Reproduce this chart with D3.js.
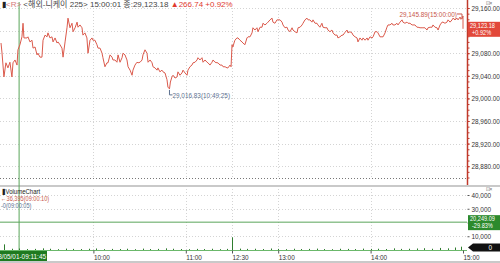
<!DOCTYPE html>
<html>
<head>
<meta charset="utf-8">
<script src="https://cdn.jsdelivr.net/npm/d3@7"></script>
<style>
    body { margin: 0; background: #fff; }
    svg { display: block; }
</style>
</head>
<body>
<div id="chart"></div>
<script>
// Trading minutes since 09:00 (the 11:30-12:30 lunch break is removed, 15:00 = 300)
const priceMin = [
    0, 0.6, 1.9, 3.2, 4.5, 5.8, 7.1, 7.8, 9.1, 10.4, 11.0, 12.3, 13.6, 14.3, 14.9, 16.9, 17.5, 18.8, 20.1, 20.8,
    22.1, 23.4, 24.0, 25.3, 26.6, 27.3, 28.6, 29.9, 30.5, 31.8, 33.1, 33.8, 35.1, 36.4, 37.0, 38.3, 39.6, 40.3, 41.6, 42.9,
    43.5, 44.8, 46.1, 46.8, 48.1, 49.4, 50.0, 51.3, 52.6, 53.2, 54.5, 55.8, 56.5, 57.8, 59.1, 59.7, 61.0, 62.3, 63.0, 64.3,
    65.6, 66.2, 67.5, 68.8, 69.5, 70.8, 72.1, 72.7, 74.0, 75.3, 76.0, 77.3, 78.6, 79.2, 80.5, 81.8, 82.5, 83.8, 85.1, 85.7,
    87.0, 88.3, 89.0, 90.3, 91.6, 92.2, 93.5, 94.8, 95.5, 96.8, 98.1, 98.7, 100.0, 101.3, 101.9, 103.2, 104.5, 105.2, 106.5, 107.8,
    108.4, 109.4, 110.0, 111.0, 111.7, 113.0, 114.3, 114.9, 116.2, 117.5, 118.2, 119.5, 120.8, 121.4, 122.7, 124.0, 124.7, 126.0, 127.3, 127.9,
    129.2, 130.5, 131.2, 132.5, 133.8, 134.4, 135.7, 137.0, 137.7, 139.0, 140.3, 140.9, 142.2, 143.5, 144.2, 145.5, 146.8, 147.4, 148.7, 149.4,
    150.0, 150.6, 151.3, 151.9, 153.2, 153.9, 155.2, 156.5, 157.1, 158.4, 159.7, 160.4, 161.7, 163.0, 163.6, 164.9, 166.2, 166.9, 168.2, 169.5,
    170.1, 171.4, 172.7, 173.4, 174.7, 176.0, 176.6, 177.9, 179.2, 179.9, 181.2, 182.5, 183.1, 184.4, 185.7, 186.4, 187.7, 189.0, 189.6, 190.9,
    192.2, 192.9, 194.2, 195.5, 196.1, 197.4, 198.7, 199.4, 200.6, 201.9, 202.6, 203.9, 205.2, 205.8, 207.1, 208.4, 209.1, 210.4, 211.7, 212.3,
    213.6, 214.9, 215.6, 216.9, 218.2, 218.8, 220.1, 221.4, 222.1, 223.4, 224.7, 225.3, 226.6, 227.9, 228.6, 229.9, 231.2, 231.8, 233.1, 234.4,
    235.1, 236.4, 237.7, 238.3, 239.6, 241.0, 241.6, 242.9, 244.2, 244.8, 246.1, 247.4, 248.1, 249.4, 250.6, 251.3, 252.6, 253.9, 254.5, 255.8,
    257.1, 257.8, 259.1, 260.4, 261.0, 262.3, 263.6, 264.3, 265.6, 266.9, 267.5, 268.8, 270.1, 270.8, 272.1, 273.4, 274.0, 275.3, 276.6, 277.3,
    278.6, 279.9, 280.5, 281.8, 283.1, 283.8, 285.1, 286.4, 287.0, 288.3, 289.6, 290.3, 291.6, 292.9, 293.5, 294.8, 296.1, 296.8, 298.1, 298.7,
    299.4, 300, 300
];
const priceVal = [
    29098, 29082, 29038, 29063, 29054, 29064, 29038, 29063, 29068, 29059, 29086, 29095, 29109, 29133, 29107, 29107, 29109, 29100, 29103, 29089,
    29091, 29077, 29080, 29073, 29073, 29103, 29112, 29109, 29116, 29107, 29109, 29100, 29107, 29098, 29100, 29095, 29089, 29073, 29100, 29126,
    29142, 29125, 29133, 29118, 29125, 29135, 29126, 29130, 29125, 29112, 29116, 29107, 29080, 29103, 29107, 29103, 29103, 29095, 29089, 29089,
    29080, 29072, 29056, 29063, 29063, 29077, 29073, 29068, 29068, 29064, 29077, 29064, 29072, 29080, 29077, 29068, 29056, 29050, 29041, 29050,
    29059, 29064, 29063, 29064, 29068, 29077, 29086, 29080, 29064, 29068, 29063, 29056, 29054, 29050, 29054, 29047, 29050, 29047, 29045, 29033,
    29020, 29016.83, 29029, 29038, 29041, 29036, 29038, 29047, 29041, 29045, 29050, 29045, 29041, 29050, 29056, 29059, 29063, 29064, 29068, 29072,
    29068, 29072, 29064, 29068, 29064, 29063, 29059, 29064, 29068, 29064, 29063, 29063, 29059, 29059, 29056, 29056, 29054, 29054, 29059, 29056,
    29095, 29091, 29098, 29103, 29107, 29107, 29103, 29100, 29098, 29095, 29107, 29109, 29109, 29116, 29125, 29121, 29125, 29118, 29126, 29126,
    29133, 29130, 29133, 29135, 29139, 29142, 29135, 29133, 29139, 29139, 29139, 29135, 29130, 29125, 29126, 29121, 29118, 29125, 29121, 29118,
    29116, 29125, 29126, 29130, 29133, 29139, 29142, 29139, 29139, 29135, 29139, 29133, 29133, 29130, 29126, 29133, 29126, 29125, 29125, 29121,
    29118, 29121, 29116, 29112, 29112, 29107, 29109, 29112, 29112, 29117, 29121, 29116, 29118, 29116, 29112, 29109, 29107, 29100, 29107, 29103,
    29107, 29103, 29107, 29103, 29109, 29107, 29109, 29118, 29118, 29116, 29109, 29109, 29109, 29116, 29126, 29130, 29130, 29133, 29130, 29130,
    29133, 29130, 29135, 29139, 29135, 29133, 29135, 29133, 29133, 29130, 29130, 29130, 29126, 29126, 29125, 29125, 29125, 29125, 29121, 29125,
    29126, 29126, 29130, 29126, 29125, 29121, 29130, 29135, 29135, 29133, 29135, 29139, 29135, 29139, 29142, 29139, 29142, 29139, 29144, 29140,
    29142, 29145.89, 29123.18
];

// Volume bars (trading minutes, contracts)
const volMin = [
    2, 7, 12, 17, 22, 27, 32, 37, 42, 47, 52, 57, 62, 67, 72, 77, 82, 87, 92, 97, 102, 107, 112, 117, 122, 127, 132, 137, 142, 147,
    150, 155, 160, 165, 170, 175, 180, 185, 190, 195, 200, 205, 210, 215, 220, 225, 230, 235, 240, 245, 250, 255, 260, 265, 270, 275, 280, 285, 290, 295, 299
];
const volVal = [
    4100, 900, 1100, 700, 800, 1200, 900, 600, 1000, 800, 700, 900, 1100, 600, 800, 700, 900, 600, 1000, 700, 800, 1200, 900, 700, 600, 800, 700, 900, 600, 800,
    9200, 1000, 800, 900, 700, 1100, 800, 600, 900, 700, 800, 1000, 700, 600, 900, 800, 700, 1000, 800, 900, 700, 1200, 800, 900, 1100, 1300, 900, 1500, 1200, 1800, 2400
];

const priceTicks = [28880, 28920, 28960, 29000, 29040, 29080, 29120, 29160];
const volTicks = [10000, 20000, 30000, 40000];
const timeTickMin = [60, 120, 150, 180, 240, 300];
const timeTickLabel = ["10:00", "11:00", "12:30", "13:00", "14:00", "15:00"];

const closePrice = 29123.18;
const volAvg = 20249.09;
const crossMin = 11.75; // 09:11:45

const FONT = "'Liberation Sans', 'Noto Sans CJK KR', sans-serif";
const SQUEEZE = 0.8; // the terminal font is narrow
const W = 500, H = 263;
const axisX = 467;

const svg = d3.select("#chart").append("svg")
    .attr("width", W)
    .attr("height", H)
    .style("font-family", FONT);

svg.append("rect").attr("width", W).attr("height", H).attr("fill", "#fff");

// Scales
const x = d3.scaleLinear().domain([0, 300]).range([1, 463]);
const yP = d3.scaleLinear().domain([28860, 29160]).range([177.5, 8]);
const yV = d3.scaleLinear().domain([0, 40000]).range([250, 195]);

// Grid lines
const grid = svg.append("g").attr("stroke", "#d4d4d4").attr("stroke-dasharray", "1,2");
grid.selectAll(".hp").data(priceTicks).enter().append("line")
    .attr("x1", 0).attr("x2", axisX)
    .attr("y1", d => Math.round(yP(d)) + 0.5).attr("y2", d => Math.round(yP(d)) + 0.5);
grid.selectAll(".hv").data([10000, 30000, 40000]).enter().append("line")
    .attr("x1", 0).attr("x2", axisX)
    .attr("y1", d => Math.round(yV(d)) + 0.5).attr("y2", d => Math.round(yV(d)) + 0.5);
grid.selectAll(".vp").data(timeTickMin.slice(0, -1)).enter().append("line")
    .attr("x1", d => Math.round(x(d)) + 0.5).attr("x2", d => Math.round(x(d)) + 0.5)
    .attr("y1", 8).attr("y2", 178);
grid.selectAll(".vv").data(timeTickMin.slice(0, -1)).enter().append("line")
    .attr("x1", d => Math.round(x(d)) + 0.5).attr("x2", d => Math.round(x(d)) + 0.5)
    .attr("y1", 189).attr("y2", 250);

// bottom of price pane
svg.append("line")
    .attr("x1", 0).attr("x2", axisX)
    .attr("y1", Math.round(yP(28860)) + 0.5).attr("y2", Math.round(yP(28860)) + 0.5)
    .attr("stroke", "#777").attr("stroke-dasharray", "1,2");

// pane separators
svg.append("rect").attr("x", 0).attr("y", 185).attr("width", W).attr("height", 2).attr("fill", "#c9c9c9");
svg.append("rect").attr("x", 0).attr("y", 261).attr("width", W).attr("height", 2).attr("fill", "#c9c9c9");

// Crosshair
svg.append("line")
    .attr("x1", x(crossMin)).attr("x2", x(crossMin))
    .attr("y1", 2).attr("y2", 251)
    .attr("stroke", "#5aa55a").attr("stroke-width", 1);
svg.append("line")
    .attr("x1", 0).attr("x2", axisX)
    .attr("y1", yV(volAvg)).attr("y2", yV(volAvg))
    .attr("stroke", "#5aa55a").attr("stroke-width", 1);

// Price line
const priceData = priceMin.map((m, i) => ({ m: m, v: priceVal[i] }));
const line = d3.line().x(d => x(d.m)).y(d => yP(d.v));
svg.append("path")
    .datum(priceData)
    .attr("fill", "none")
    .attr("stroke", "#db5a4c")
    .attr("stroke-width", 1)
    .attr("d", line);

// Volume
svg.append("line")
    .attr("x1", 0).attr("x2", axisX)
    .attr("y1", yV(0) + 0.5).attr("y2", yV(0) + 0.5)
    .attr("stroke", "#6bb86b");
svg.selectAll(".vol")
    .data(volMin.map((m, i) => ({ m: m, v: volVal[i] })))
    .enter().append("line")
    .attr("class", "vol")
    .attr("x1", d => Math.round(x(d.m)) + 0.5).attr("x2", d => Math.round(x(d.m)) + 0.5)
    .attr("y1", yV(0)).attr("y2", d => yV(d.v))
    .attr("stroke", "#2f7d2f");

// High / low annotations
const hiIdx = d3.maxIndex(priceVal);
const loIdx = d3.minIndex(priceVal);
const hx = x(priceMin[hiIdx]), hy = yP(priceVal[hiIdx]);
svg.append("path")
    .attr("d", `M${hx - 6},${hy - 2}H${hx - 1}V${hy + 3}`)
    .attr("fill", "none").attr("stroke", "#c8574a");
svg.append("text")
    .attr("x", hx - 6).attr("y", hy + 1)
    .attr("text-anchor", "end")
    .attr("font-size", 8).attr("fill", "#c8574a")
    .text(d3.format(",.2f")(priceVal[hiIdx]) + "(15:00:00)");
const lx = x(priceMin[loIdx]), ly = yP(priceVal[loIdx]);
svg.append("path")
    .attr("d", `M${lx},${ly + 1}V${ly + 6}H${lx + 3}`)
    .attr("fill", "none").attr("stroke", "#5d7290");
svg.append("text")
    .attr("x", lx + 3).attr("y", ly + 9)
    .attr("font-size", 8).attr("fill", "#5d7290")
    .text(d3.format(",.2f")(priceVal[loIdx]) + "(10:49:25)");

// Price axis (right); the label under the current-price box is hidden
const pAxis = svg.append("g")
    .attr("transform", `translate(${axisX + 0.5},0)`)
    .call(d3.axisRight(yP).tickValues(priceTicks).tickFormat(d3.format(",.2f")).tickSize(2).tickPadding(2));
pAxis.select(".domain").remove();
pAxis.selectAll("line").attr("stroke", "#c0392b");
pAxis.selectAll("text").attr("font-family", FONT).attr("font-size", 8).attr("fill", "#333");
pAxis.selectAll(".tick").filter(d => Math.abs(yP(d) - yP(closePrice)) < 8).select("text").remove();
const pMinor = svg.append("g")
    .attr("transform", `translate(${axisX + 0.5},0)`)
    .call(d3.axisRight(yP).ticks(30).tickFormat("").tickSize(2));
pMinor.select(".domain").remove();
pMinor.selectAll("line").attr("stroke", "#c0392b");
svg.append("line")
    .attr("x1", axisX + 0.5).attr("x2", axisX + 0.5)
    .attr("y1", 0).attr("y2", 185)
    .attr("stroke", "#c0392b").attr("stroke-width", 1.5);

// Volume axis (right); the label under the crosshair box is hidden
const vAxis = svg.append("g")
    .attr("transform", `translate(${axisX + 0.5},0)`)
    .call(d3.axisRight(yV).tickValues(volTicks).tickFormat(d3.format(",")).tickSize(2).tickPadding(2));
vAxis.select(".domain").remove();
vAxis.selectAll("line").attr("stroke", "#555");
vAxis.selectAll("text").attr("font-family", FONT).attr("font-size", 8).attr("fill", "#333");
vAxis.selectAll(".tick").filter(d => Math.abs(yV(d) - yV(volAvg)) < 8).select("text").remove();

// Time axis
const tAxis = svg.append("g")
    .attr("transform", `translate(0,${yV(0) + 0.5})`)
    .call(d3.axisBottom(x).tickValues(timeTickMin).tickFormat((d, i) => timeTickLabel[i]).tickSize(3).tickPadding(1));
tAxis.select(".domain").remove();
tAxis.selectAll("line").attr("stroke", "#555");
tAxis.selectAll("text")
    .attr("font-family", FONT).attr("font-size", 8).attr("fill", "#333")
    .attr("text-anchor", "start");

// Current price box
const cy = yP(closePrice);
svg.append("rect").attr("x", axisX + 1).attr("y", cy - 7).attr("width", W - axisX).attr("height", 15).attr("fill", "#e2483a");
svg.append("text").attr("x", axisX + 3).attr("y", cy - 0.8).attr("font-size", 7).attr("fill", "#fff").text(d3.format(",.2f")(closePrice));
svg.append("text").attr("x", axisX + 5).attr("y", cy + 6.3).attr("font-size", 7).attr("fill", "#fff").text("+0.92%");

// Volume crosshair box
const vy = yV(volAvg);
svg.append("rect").attr("x", axisX + 1).attr("y", vy - 7).attr("width", W - axisX).attr("height", 15).attr("fill", "#2c8a2c");
svg.append("text").attr("x", axisX + 3).attr("y", vy - 0.8).attr("font-size", 7).attr("fill", "#fff").text(d3.format(",.2f")(volAvg));
svg.append("text").attr("x", axisX + 5).attr("y", vy + 6.3).attr("font-size", 7).attr("fill", "#fff").text("-29.83%");

// Zero box
const zy = yV(0) - 2.5;
svg.append("path")
    .attr("d", `M${axisX + 1},${zy} L${axisX + 6},${zy - 4} H${W} V${zy + 4} H${axisX + 6} Z`)
    .attr("fill", "#111");
svg.append("text").attr("x", 492).attr("y", zy + 3).attr("text-anchor", "end").attr("font-size", 8).attr("fill", "#fff").text("0");

// Crosshair date box
svg.append("rect").attr("x", 0).attr("y", 251).attr("width", 47).attr("height", 10).attr("fill", "#1f7a1f");
svg.append("text").attr("x", 46).attr("y", 259).attr("text-anchor", "end").attr("font-size", 8).attr("fill", "#fff").text("23/05/01-09:11:45");

// Volume pane legend
svg.append("text").attr("x", 2).attr("y", 194).attr("font-size", 7.5).attr("fill", "#222").text("▮VolumeChart");
svg.append("text").attr("x", 1).attr("y", 201.5).attr("font-size", 7).attr("fill", "#c8574a").text("←36,395(09:00:10)");
svg.append("text").attr("x", 1).attr("y", 208.5).attr("font-size", 7).attr("fill", "#5d7290").text("-0(09:00:05)");

// little pane buttons
svg.append("text").attr("x", 486).attr("y", 5).attr("font-size", 6).attr("fill", "#666").text("⊡×");
svg.append("text").attr("x", 486).attr("y", 191).attr("font-size", 6).attr("fill", "#666").text("⊡×");

// narrow all texts horizontally (keeps the anchor point in place)
svg.selectAll("text").each(function () {
    const t = d3.select(this);
    const x0 = +t.attr("x") || 0;
    t.attr("x", x0 / SQUEEZE).attr("transform", `scale(${SQUEEZE},1)`);
});

// Header (normal width)
const header = svg.append("text").attr("x", 2).attr("y", 7).attr("font-size", 8);
header.append("tspan").attr("fill", "#222").text("▮");
header.append("tspan").attr("fill", "#d47a7a").text("<R>");
header.append("tspan").attr("fill", "#444").text(" <해외-니케이 225> 15:00:01 종:29,123.18 ");
header.append("tspan").attr("fill", "#e03a30").text("▲266.74 +0.92%");
</script>
</body>
</html>
